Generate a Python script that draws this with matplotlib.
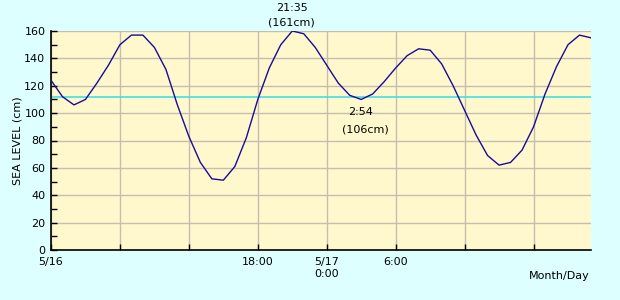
import numpy as np
import matplotlib
matplotlib.use('Agg')
from matplotlib import pyplot as plt
from matplotlib.ticker import MultipleLocator

# hourly sea level, 5/16 0:00 .. 5/17 23:00 (cm)
hours = list(range(48))
level = [124, 112, 106, 110, 122, 135, 150, 157, 157, 148, 132, 106,
         83, 64, 52, 51, 61, 82, 110, 133, 150, 160, 158, 148,
         135, 122, 113, 110, 114, 123, 133, 142, 147, 146, 136, 120,
         102, 84, 69, 62, 64, 73, 90, 114, 134, 150, 157, 155]
mean_level = 112

xtick_pos = [0, 6, 12, 18, 24, 30, 36, 42]
xtick_lab = ['5/16', '', '', '18:00', '5/17\n0:00', '6:00', '', '']

high_time, high_val = '21:35', 161
low_time, low_val = '2:54', 106

bg = '#DDFFFF'
fig = plt.figure(figsize=(6.2, 3.0), dpi=100, facecolor=bg)
ax = fig.add_axes([51/620, 50/300, 540/620, 219/300])
ax.set_facecolor('#FFF8CC')

ax.plot(hours, level, color='#1A0A9A', lw=1.0, zorder=3)
ax.axhline(mean_level, color='#40E0E8', lw=1.2, zorder=2)

ax.set_xlim(0, 47)
ax.set_ylim(0, 160)
ax.set_xticks(xtick_pos)
ax.set_xticklabels(xtick_lab)
ax.yaxis.set_major_locator(MultipleLocator(20))
ax.yaxis.set_minor_locator(MultipleLocator(10))
ax.grid(True, which='major', color='#C4BEB0', lw=1.0, zorder=1)

ax.tick_params(axis='both', which='both', direction='in', length=4,
               width=1, labelsize=8, color='black')
ax.tick_params(axis='x', pad=5)
ax.tick_params(axis='y', pad=4)
for s in ['top', 'right']:
    ax.spines[s].set_visible(False)
for s in ['left', 'bottom']:
    ax.spines[s].set_linewidth(1.2)

ax.set_ylabel('SEA LEVEL (cm)', fontsize=8, labelpad=1)
fig.text(590/620, 1 - 276/300, 'Month/Day', ha='right', va='center', fontsize=8)

# tide annotations
ax.text(20.96, 176.8, high_time, ha='center', va='center', fontsize=8, clip_on=False)
ax.text(20.96, 166.5, '(%dcm)' % high_val, ha='center', va='center', fontsize=8, clip_on=False)
ax.text(26.9, 100.8, low_time, ha='center', va='center', fontsize=8)
ax.text(27.4, 88.4, '(%dcm)' % low_val, ha='center', va='center', fontsize=8)

fig.savefig('out.png', dpi=100, facecolor=bg)
